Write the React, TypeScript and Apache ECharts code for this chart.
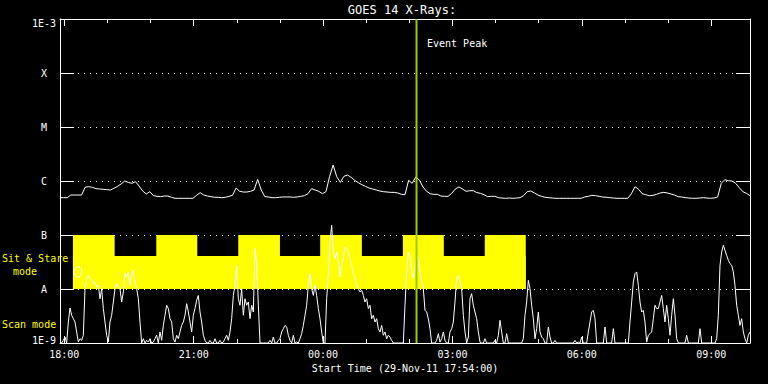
import React, { useEffect, useRef } from 'react';
import * as echarts from 'echarts';

const START_TIME = '2011-11-29T17:54:00Z';
const END_TIME = '2011-11-30T09:54:00Z';
const EVENT_PEAK_TIME = '2011-11-30T02:10:00Z';

// Labelled (3-hourly) ticks of the time axis
const X_MAJOR_TICKS = [
  '2011-11-29T18:00:00Z',
  '2011-11-29T21:00:00Z',
  '2011-11-30T00:00:00Z',
  '2011-11-30T03:00:00Z',
  '2011-11-30T06:00:00Z',
  '2011-11-30T09:00:00Z',
];
const X_TICK_LABELS = ['18:00', '21:00', '00:00', '03:00', '06:00', '09:00'];
const X_MINOR_TICK_HOURS = 1;

// GOES 14 long channel (1-8 A), W/m^2, one value every 5 minutes from START_TIME
const LONG_STEP_MIN = 5;
const LONG_CHANNEL = [
  4.91e-7, 4.91e-7, 4.91e-7, 5.5e-7, 5.5e-7, 5.5e-7, 5.5e-7, 7.69e-7, 7.85e-7, 7.64e-7,
  7.21e-7, 7.11e-7, 7.02e-7, 6.92e-7, 6.81e-7, 7.31e-7, 7.96e-7, 8.8e-7, 1.0e-6, 9.44e-7,
  9.05e-7, 9.72e-7, 8.07e-7, 6.53e-7, 5.74e-7, 6.34e-7, 5.35e-7, 5.2e-7, 5.13e-7, 5.27e-7,
  5.27e-7, 4.99e-7, 4.78e-7, 4.78e-7, 4.78e-7, 4.78e-7, 4.78e-7, 4.78e-7, 5.43e-7, 6.08e-7,
  5.5e-7, 5.27e-7, 5.13e-7, 4.99e-7, 4.99e-7, 4.91e-7, 4.99e-7, 5.2e-7, 5.43e-7, 7.41e-7,
  6.44e-7, 6.25e-7, 6.25e-7, 6.44e-7, 6.81e-7, 1.07e-6, 6.81e-7, 5.13e-7, 5.06e-7, 4.91e-7,
  4.91e-7, 4.99e-7, 5.06e-7, 5.06e-7, 5.06e-7, 4.99e-7, 5.06e-7, 5.2e-7, 5.35e-7, 5.82e-7,
  7.21e-7, 6.81e-7, 6.44e-7, 5.82e-7, 6.34e-7, 1.2e-6, 1.98e-6, 1.2e-6, 9.44e-7, 1.22e-6,
  1.29e-6, 1.17e-6, 1.03e-6, 9.31e-7, 8.55e-7, 7.96e-7, 7.41e-7, 7.11e-7, 6.81e-7, 6.53e-7,
  6.34e-7, 6.25e-7, 6.16e-7, 6.16e-7, 6.0e-7, 5.66e-7, 5.58e-7,
  1.03e-6, 9.05e-7, 1.19e-6, 1.04e-6, 7.74e-7, 6.44e-7, 5.82e-7, 5.66e-7, 5.66e-7, 5.27e-7,
  5.2e-7, 5.2e-7, 5.91e-7, 7.11e-7, 7.74e-7, 7.11e-7, 6.44e-7, 6.62e-7, 6.62e-7, 6.08e-7,
  5.91e-7, 5.58e-7, 5.13e-7, 5.2e-7, 5.2e-7, 4.91e-7, 4.84e-7, 4.78e-7, 4.84e-7, 4.78e-7,
  4.84e-7, 4.91e-7, 5.35e-7, 6.34e-7, 6.53e-7, 6.0e-7, 5.5e-7, 5.2e-7, 4.99e-7, 4.91e-7,
  4.84e-7, 4.78e-7, 4.78e-7, 4.78e-7, 4.78e-7, 4.78e-7, 4.78e-7, 4.78e-7, 4.78e-7, 5.06e-7,
  5.2e-7, 5.43e-7, 5.35e-7, 5.2e-7, 5.06e-7, 4.99e-7, 4.91e-7, 4.84e-7, 4.78e-7, 4.78e-7,
  4.78e-7, 4.78e-7, 5.82e-7, 7.85e-7, 7.02e-7, 5.82e-7, 5.58e-7, 5.35e-7, 5.43e-7, 5.66e-7,
  6.0e-7, 6.16e-7, 6.0e-7, 5.74e-7, 5.5e-7, 5.13e-7, 5.06e-7, 4.91e-7, 4.84e-7, 4.78e-7,
  4.78e-7, 4.84e-7, 4.91e-7, 4.84e-7, 4.78e-7, 4.84e-7, 5.06e-7, 9.05e-7, 1.06e-6, 1.01e-6,
  1.0e-6, 9.05e-7, 7.53e-7, 6.34e-7, 5.91e-7, 5.35e-7,
];

// GOES 14 short channel (0.5-4 A), W/m^2, clipped at 1E-9
const SHORT_STEP_SEC = 139.13;
const SHORT_CHANNEL = [
  1e-9, 1e-9, 1.12e-9, 1.29e-9, 1e-9, 2.45e-9, 4.45e-9, 3.26e-9, 2.82e-9, 2.45e-9,
  1.6e-9, 1.04e-9, 1.2e-9, 1.12e-9, 1.39e-9, 1.01e-8, 1.67e-8, 1.79e-8, 1.56e-8, 1.45e-8,
  1.26e-8, 1.35e-8, 1.09e-8, 1.17e-8, 6.6e-9, 1.01e-8, 4.33e-9, 2.45e-9, 1.39e-9, 1.04e-9,
  2.45e-9, 3.26e-9, 5.75e-9, 1.01e-8, 1.26e-8, 1.09e-8, 1.01e-8, 5.75e-9, 8.8e-9, 1.92e-8,
  1.67e-8, 2.07e-8, 1.17e-8, 1.79e-8, 2.22e-8, 1.35e-8, 1.01e-8, 6.6e-9, 2.45e-9, 1e-9,
  1.2e-9, 1e-9, 1.12e-9, 1.04e-9, 1.2e-9, 1e-9, 1.04e-9, 1.2e-9, 1.39e-9, 1e-9,
  1.6e-9, 1.12e-9, 2.12e-9, 3.26e-9, 5.0e-9, 4.33e-9, 2.82e-9, 2.45e-9, 1.2e-9, 1.04e-9,
  1.39e-9, 1.2e-9, 1.6e-9, 2.12e-9, 2.45e-9, 3.26e-9, 5.35e-9, 3.75e-9, 2.45e-9, 1.6e-9,
  3.26e-9, 4.33e-9, 6.2e-9, 7.6e-9, 3.75e-9, 2.45e-9, 1.39e-9, 1.12e-9, 1e-9, 1e-9,
  1.12e-9, 1e-9, 1e-9, 1.2e-9, 1e-9, 1e-9, 1.12e-9, 1e-9, 1.04e-9, 1.2e-9,
  1.39e-9, 1.12e-9, 1.6e-9, 2.82e-9, 7.6e-9, 1.17e-8, 2.75e-8, 6.6e-9, 5.0e-9, 1.01e-8,
  3.26e-9, 6.6e-9, 5.0e-9, 5.75e-9, 2.82e-9, 5.0e-9, 3.75e-9, 5.59e-8, 3.16e-8, 5.0e-9,
  1e-9, 1e-9, 1e-9, 1e-9, 1e-9, 1e-9, 1.12e-9, 1e-9, 1.29e-9, 1e-9,
  1e-9, 1.12e-9, 1.2e-9, 1.6e-9, 1.84e-9, 2.12e-9, 1.98e-9, 1.39e-9, 1.12e-9, 1e-9,
  1.39e-9, 1e-9, 1.04e-9, 1e-9, 1.2e-9, 1.49e-9, 2.12e-9, 3.26e-9, 5.0e-9, 1.17e-8,
  1.92e-8, 1.01e-8, 7.6e-9, 1.17e-8, 7.6e-9, 4.33e-9, 2.82e-9, 1.6e-9, 1e-9, 1e-9,
  6.6e-9, 1.79e-8, 7.43e-8, 1.51e-7, 4.84e-8, 3.65e-8, 4.84e-8, 3.16e-8, 1.67e-8, 2.75e-8,
  3.65e-8, 6.0e-8, 5.59e-8, 4.84e-8, 3.65e-8, 2.75e-8, 1.92e-8, 1.56e-8, 1.17e-8, 1.01e-8,
  8.8e-9, 9.5e-9, 7.6e-9, 5.75e-9, 6.6e-9, 4.33e-9, 5.0e-9, 2.82e-9, 3.26e-9, 2.45e-9,
  2.82e-9, 1.84e-9, 1.6e-9, 2.12e-9, 1.39e-9, 1.6e-9, 1.2e-9, 1.39e-9, 1.29e-9, 1.12e-9,
  1e-9, 1e-9, 1e-9, 1e-9, 1e-9, 1e-9, 1e-9,
  5.0e-9, 2.07e-8, 4.84e-8, 4.2e-8, 2.07e-8, 1.56e-8, 2.38e-8, 4.2e-8, 3.65e-8, 2.07e-8,
  1.35e-8, 1.01e-8, 4.03e-9, 3.75e-9, 2.82e-9, 1.84e-9, 1e-9, 1e-9, 1e-9, 1.12e-9,
  1.49e-9, 1.04e-9, 1.2e-9, 1.6e-9, 1.12e-9, 1e-9, 1e-9, 1.6e-9, 1.84e-9, 2.45e-9,
  5.75e-9, 1.56e-8, 1.79e-8, 1.45e-8, 1.01e-8, 3.26e-9, 1.6e-9, 1e-9, 1.29e-9, 6.6e-9,
  8.2e-9, 5.0e-9, 3.75e-9, 2.82e-9, 1.6e-9, 1.04e-9, 1e-9, 1e-9, 1.2e-9, 1e-9,
  1e-9, 1e-9, 1e-9, 1e-9, 1.12e-9, 1e-9, 1.39e-9, 2.63e-9, 1.6e-9, 1e-9,
  1e-9, 1.49e-9, 1e-9, 1e-9, 1e-9, 1e-9, 1e-9, 1e-9, 1e-9, 1e-9,
  1e-9, 1.2e-9, 3.26e-9, 5.75e-9, 1.45e-8, 1.01e-8, 5.0e-9, 2.82e-9, 1.2e-9, 1.84e-9,
  3.75e-9, 1.6e-9, 1.29e-9, 1.2e-9, 1e-9, 1e-9, 1.98e-9, 1.29e-9, 1e-9, 1e-9,
  1.12e-9, 1e-9, 1e-9, 1e-9, 1e-9, 1e-9, 1e-9, 1e-9, 1e-9, 1e-9,
  1e-9, 1e-9, 1.12e-9, 1e-9, 1.04e-9, 1e-9, 1.29e-9, 1e-9, 1e-9, 1e-9,
  1.6e-9, 2.45e-9, 3.75e-9, 4.03e-9, 2.82e-9, 1e-9, 1e-9, 1e-9, 1e-9, 1e-9,
  1.98e-9, 1e-9, 1e-9, 1e-9, 1e-9, 1.84e-9, 1e-9, 1e-9, 1e-9, 1e-9,
  1e-9, 1e-9, 1e-9, 1e-9, 1e-9, 2.45e-9, 5.75e-9, 1.35e-8, 1.92e-8, 2.07e-8,
  1.17e-8, 5.75e-9, 3.75e-9, 4.03e-9, 2.45e-9, 1.04e-9, 1.39e-9, 1.49e-9, 1.6e-9, 2.82e-9,
  5.0e-9, 4.33e-9, 4.33e-9, 5.75e-9, 7.6e-9, 4.33e-9, 2.45e-9, 5.0e-9, 2.82e-9, 1.39e-9,
  3.26e-9, 6.6e-9, 3.26e-9, 1.2e-9, 1e-9, 1e-9, 1e-9, 1e-9, 1e-9, 1.39e-9,
  1e-9, 1e-9, 1e-9, 1e-9, 1e-9, 1e-9, 1e-9, 1.84e-9, 1e-9, 1e-9,
  1e-9, 1e-9, 1e-9, 1e-9, 1e-9, 1e-9, 1e-9, 1.2e-9, 3.26e-9, 2.75e-8,
  4.84e-8, 6.45e-8, 5.2e-8, 4.2e-8, 3.4e-8, 2.95e-8, 2.75e-8, 2.07e-8, 1.17e-8, 5.0e-9,
  3.26e-9, 2.12e-9, 2.82e-9, 1.6e-9, 1.2e-9, 1e-9, 1.39e-9, 1.6e-9,
];

const Y_TICK_LABELS = ['1E-9', 'A', 'B', 'C', 'M', 'X', '1E-3'];

// Sit & Stare mode intervals (full band A..B)
const SIT_STARE_FULL = [
  ['2011-11-29T18:12:00Z', '2011-11-29T19:10:00Z'],
  ['2011-11-29T20:08:00Z', '2011-11-29T21:05:00Z'],
  ['2011-11-29T22:02:00Z', '2011-11-29T23:00:00Z'],
  ['2011-11-29T23:56:00Z', '2011-11-30T00:54:00Z'],
  ['2011-11-30T01:51:00Z', '2011-11-30T02:48:00Z'],
  ['2011-11-30T03:45:00Z', '2011-11-30T04:42:00Z'],
];
const SIT_STARE_SPAN = ['2011-11-29T18:12:00Z', '2011-11-30T04:42:00Z'];
const BAND_LOW = 1e-8;
const BAND_HIGH = 1e-7;
const BAND_NOTCH = 4.1e-8;

const FONT = '"DejaVu Sans Mono", monospace';

export default function App() {
  const ref = useRef<HTMLDivElement>(null);

  useEffect(() => {
    if (!ref.current) return;
    const chart = echarts.init(ref.current, undefined, { renderer: 'svg' });
    const t0 = Date.parse(START_TIME);
    const t1 = Date.parse(END_TIME);
    const peak = Date.parse(EVENT_PEAK_TIME);

    const longData = LONG_CHANNEL.map((v, i) => [t0 + i * LONG_STEP_MIN * 60000, v]);
    const shortData = SHORT_CHANNEL.map((v, i) => [t0 + i * SHORT_STEP_SEC * 1000, v]);

    const bandData: number[][] = [
      [Date.parse(SIT_STARE_SPAN[0]), Date.parse(SIT_STARE_SPAN[1]), BAND_LOW, BAND_NOTCH],
      ...SIT_STARE_FULL.map((s) => [Date.parse(s[0]), Date.parse(s[1]), BAND_LOW, BAND_HIGH]),
    ];

    const majorTicks = X_MAJOR_TICKS.map((s) => Date.parse(s));
    const minorTicks: number[] = [];
    for (let t = majorTicks[0]; t < t1; t += X_MINOR_TICK_HOURS * 3600000) minorTicks.push(t);
    const labelFor = (v: number) => {
      let best = -1;
      let bd = Infinity;
      majorTicks.forEach((m, i) => {
        const d = Math.abs(m - v);
        if (d < bd) {
          bd = d;
          best = i;
        }
      });
      return best >= 0 && bd < 60000 ? X_TICK_LABELS[best] : '';
    };

    const white = '#ffffff';
    const baseX = {
      type: 'value',
      min: t0,
      max: t1,
      scale: true,
      splitLine: { show: false },
      axisPointer: { show: false },
    };
    const yLog = {
      type: 'log',
      logBase: 10,
      min: 1e-9,
      max: 1e-3,
      splitNumber: 6,
    };

    const option: any = {
      animation: false,
      backgroundColor: '#000000',
      grid: { left: 60, right: 18, top: 19, bottom: 41, containLabel: false },
      xAxis: [
        {
          ...baseX,
          position: 'bottom',
          axisLine: { show: true, lineStyle: { color: white, width: 1 } },
          axisTick: {
            show: true,
            inside: true,
            length: 7,
            customValues: majorTicks,
            lineStyle: { color: white },
          },
          axisLabel: {
            show: true,
            color: white,
            fontFamily: FONT,
            fontSize: 10,
            margin: 6,
            customValues: majorTicks,
            formatter: (v: number) => labelFor(v),
          },
        },
        {
          ...baseX,
          position: 'bottom',
          axisLine: { show: false },
          axisTick: {
            show: true,
            inside: true,
            length: 4,
            customValues: minorTicks,
            lineStyle: { color: white },
          },
          axisLabel: { show: false },
        },
        {
          ...baseX,
          position: 'top',
          axisLine: { show: true, lineStyle: { color: white, width: 1 } },
          axisTick: {
            show: true,
            inside: true,
            length: 7,
            customValues: majorTicks,
            lineStyle: { color: white },
          },
          axisLabel: { show: false },
        },
        {
          ...baseX,
          position: 'top',
          axisLine: { show: false },
          axisTick: {
            show: true,
            inside: true,
            length: 4,
            customValues: minorTicks,
            lineStyle: { color: white },
          },
          axisLabel: { show: false },
        },
      ],
      yAxis: [
        {
          ...yLog,
          position: 'left',
          axisLine: { show: true, lineStyle: { color: white, width: 1 } },
          axisTick: { show: true, inside: true, length: 14, lineStyle: { color: white } },
          splitLine: { show: true, lineStyle: { color: white, width: 1, type: [1, 5] } },
          axisLabel: {
            show: true,
            color: white,
            fontFamily: FONT,
            fontSize: 10,
            align: 'center',
            margin: 16,
            formatter: (v: number) => {
              const idx = Math.round(Math.log10(v)) + 9;
              const txt = Y_TICK_LABELS[idx] ?? '';
              if (idx === 6) return '{hi|' + txt + '}';
              if (idx === 0) return '{lo|' + txt + '}';
              return txt;
            },
            rich: {
              hi: { color: white, fontFamily: FONT, fontSize: 10, padding: [8, 0, 0, 0] },
              lo: { color: white, fontFamily: FONT, fontSize: 10, padding: [0, 0, 6, 0] },
            },
          },
        },
        {
          ...yLog,
          position: 'right',
          axisLine: { show: true, lineStyle: { color: white, width: 1 } },
          axisTick: { show: true, inside: true, length: 14, lineStyle: { color: white } },
          splitLine: { show: false },
          axisLabel: { show: false },
        },
      ],
      series: [
        {
          type: 'custom',
          name: 'Sit & Stare',
          xAxisIndex: 0,
          yAxisIndex: 0,
          z: 1,
          encode: { x: [0, 1], y: [2, 3] },
          data: bandData,
          renderItem: (params: any, api: any) => {
            const p1 = api.coord([api.value(0), api.value(3)]);
            const p2 = api.coord([api.value(1), api.value(2)]);
            return {
              type: 'rect',
              shape: { x: p1[0], y: p1[1], width: p2[0] - p1[0], height: p2[1] - p1[1] },
              style: { fill: '#ffff00' },
            };
          },
        },
        {
          type: 'line',
          name: 'short',
          xAxisIndex: 0,
          yAxisIndex: 0,
          z: 2,
          symbol: 'none',
          showSymbol: false,
          lineStyle: { color: white, width: 1 },
          data: shortData,
        },
        {
          type: 'line',
          name: 'long',
          xAxisIndex: 0,
          yAxisIndex: 0,
          z: 2,
          symbol: 'none',
          showSymbol: false,
          lineStyle: { color: white, width: 1 },
          data: longData,
        },
        {
          type: 'custom',
          name: 'Event Peak',
          xAxisIndex: 0,
          yAxisIndex: 0,
          z: 3,
          encode: { x: 0, y: [1, 2] },
          data: [[peak, 1e-9, 1e-3]],
          renderItem: (params: any, api: any) => {
            const a = api.coord([api.value(0), api.value(2)]);
            const b = api.coord([api.value(0), api.value(1)]);
            return {
              type: 'line',
              shape: { x1: a[0], y1: a[1], x2: b[0], y2: b[1] },
              style: { stroke: '#99cc00', lineWidth: 2 },
            };
          },
        },
      ],
      graphic: [
        {
          type: 'text',
          x: 402,
          y: 10,
          style: { text: 'GOES 14 X-Rays:', fill: white, font: '12px ' + FONT, align: 'center', verticalAlign: 'middle' },
        },
        {
          type: 'text',
          x: 427,
          y: 43,
          z: 10,
          style: { text: 'Event Peak', fill: white, font: '10px ' + FONT, align: 'left', verticalAlign: 'middle' },
        },
        {
          type: 'text',
          x: 405,
          y: 368,
          style: {
            text: 'Start Time (29-Nov-11 17:54:00)',
            fill: white,
            font: '10px ' + FONT,
            align: 'center',
            verticalAlign: 'middle',
          },
        },
        {
          type: 'text',
          x: 2,
          y: 258,
          style: { text: 'Sit & Stare', fill: '#ffff00', font: '10px ' + FONT, align: 'left', verticalAlign: 'middle' },
        },
        {
          type: 'text',
          x: 13,
          y: 271,
          style: { text: 'mode', fill: '#ffff00', font: '10px ' + FONT, align: 'left', verticalAlign: 'middle' },
        },
        {
          type: 'text',
          x: 2,
          y: 324,
          style: { text: 'Scan mode', fill: '#ffff00', font: '10px ' + FONT, align: 'left', verticalAlign: 'middle' },
        },
        {
          type: 'ellipse',
          z: 10,
          shape: { cx: 78, cy: 272, rx: 4, ry: 5 },
          style: { fill: 'none', stroke: white, lineWidth: 1 },
        },
      ],
    };

    chart.setOption(option);
    return () => {
      chart.dispose();
    };
  }, []);

  return (
    <div
      ref={ref}
      style={{ position: 'fixed', left: 0, top: 0, width: 768, height: 384, background: '#000000' }}
    />
  );
}
